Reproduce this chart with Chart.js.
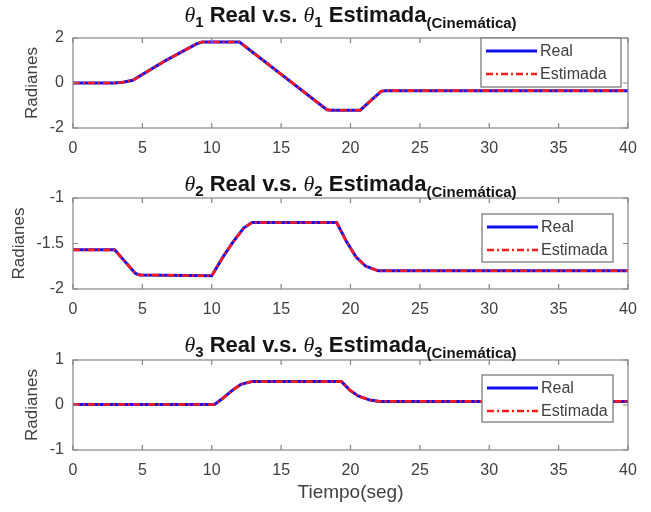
<!DOCTYPE html>
<html><head><meta charset="utf-8">
<script src="https://cdn.jsdelivr.net/npm/chart.js@4.4.1/dist/chart.umd.min.js"></script>
<style>
html,body{margin:0;padding:0;background:#fff;}
#wrap{position:relative;width:651px;height:512px;overflow:hidden;}
canvas{position:absolute;left:0;}
</style></head><body>
<div id="wrap">
<canvas id="c1" width="651" height="162" style="top:0px"></canvas>
<canvas id="c2" width="651" height="162" style="top:162px"></canvas>
<canvas id="c3" width="651" height="188" style="top:324px"></canvas>
</div>
<script>
// ---- data ----
const xTickValues = [0, 5, 10, 15, 20, 25, 30, 35, 40];
const seriesLabels = ['Real', 'Estimada'];
const titleWords = ['Real v.s.', 'Estimada', '(Cinemática)'];
const xAxisTitle = 'Tiempo(seg)';
const yAxisTitle = 'Radianes';

const t1 = [0, 3.0, 3.6, 4.3, 6.6, 8.9, 9.3, 12.0, 18.3, 18.6, 20.7, 22.2, 22.5, 40];
const theta1Real = [0, 0, 0.03, 0.12, 0.97, 1.74, 1.82, 1.82, -1.19, -1.21, -1.21, -0.37, -0.34, -0.34];
const theta1Est  = [0, 0, 0.03, 0.12, 0.97, 1.74, 1.82, 1.82, -1.19, -1.21, -1.21, -0.37, -0.34, -0.34];
const yTicks1 = [-2, 0, 2];

const t2 = [0, 3.0, 4.5, 4.8, 10.0, 10.8, 11.5, 12.3, 12.9, 19.0, 19.7, 20.4, 21.1, 22.0, 40];
const theta2Real = [-1.57, -1.57, -1.83, -1.845, -1.855, -1.65, -1.49, -1.33, -1.27, -1.27, -1.475, -1.65, -1.75, -1.80, -1.80];
const theta2Est  = [-1.57, -1.57, -1.83, -1.845, -1.855, -1.65, -1.49, -1.33, -1.27, -1.27, -1.475, -1.65, -1.75, -1.80, -1.80];
const yTicks2 = [-2, -1.5, -1];

const t3 = [0, 10.2, 10.8, 11.5, 12.1, 12.9, 19.35, 19.95, 20.55, 21.4, 22.1, 40];
const theta3Real = [0.01, 0.01, 0.15, 0.33, 0.46, 0.52, 0.52, 0.33, 0.2, 0.11, 0.08, 0.08];
const theta3Est  = [0.01, 0.01, 0.15, 0.33, 0.46, 0.52, 0.52, 0.33, 0.2, 0.11, 0.08, 0.08];
const yTicks3 = [-1, 0, 1];

// ---- drawing ----
const SANS = '"Liberation Sans", Arial, Helvetica, sans-serif';
const TXT = '#404040';

function pts(ts, vs) { return ts.map((t, i) => ({x: t, y: vs[i]})); }

function drawTitle(ctx, cx, base, sub) {
  const big = 'bold 22px ' + SANS;
  const th = 'italic 22px "Liberation Serif", "DejaVu Serif", serif';
  const small = 'bold 15px ' + SANS;
  const parts = [
    [th, 'θ', 0], [small, sub, 5], [big, ' ' + titleWords[0] + ' ', 0],
    [th, 'θ', 0], [small, sub, 5], [big, ' ' + titleWords[1], 0], [small, titleWords[2], 6]
  ];
  let w = 0;
  parts.forEach(p => { ctx.font = p[0]; w += ctx.measureText(p[1]).width; });
  let x = cx - w / 2;
  ctx.fillStyle = '#141414';
  ctx.textAlign = 'left';
  ctx.textBaseline = 'alphabetic';
  parts.forEach(p => { ctx.font = p[0]; ctx.fillText(p[1], x, base + p[2]); x += ctx.measureText(p[1]).width; });
}

function makePlugin(cfg) {
  return {
    id: 'decor' + cfg.sub,
    afterDraw(chart) {
      const {ctx, chartArea: a, scales: {x, y}} = chart;
      ctx.save();
      // axes box
      ctx.strokeStyle = '#858585';
      ctx.lineWidth = 1.2;
      ctx.strokeRect(a.left, a.top, a.right - a.left, a.bottom - a.top);
      // inward ticks
      ctx.beginPath();
      x.ticks.forEach(tk => {
        const px = x.getPixelForValue(tk.value);
        ctx.moveTo(px, a.bottom); ctx.lineTo(px, a.bottom - 5);
        ctx.moveTo(px, a.top); ctx.lineTo(px, a.top + 5);
      });
      y.ticks.forEach(tk => {
        const py = y.getPixelForValue(tk.value);
        ctx.moveTo(a.left, py); ctx.lineTo(a.left + 5, py);
        ctx.moveTo(a.right, py); ctx.lineTo(a.right - 5, py);
      });
      ctx.stroke();
      // legend
      const L = cfg.legend;
      ctx.fillStyle = '#fff';
      ctx.fillRect(L.x, L.y, L.w, L.h);
      ctx.strokeStyle = '#7a7a7a';
      ctx.lineWidth = 1.3;
      ctx.strokeRect(L.x, L.y, L.w, L.h);
      chart.data.datasets.forEach((ds, i) => {
        const yy = L.y + 13 + i * 23;
        ctx.save();
        ctx.strokeStyle = ds.borderColor;
        ctx.lineWidth = ds.borderWidth;
        ctx.setLineDash(ds.borderDash || []);
        ctx.beginPath();
        ctx.moveTo(L.x + 5, yy); ctx.lineTo(L.x + 56, yy);
        ctx.stroke();
        ctx.restore();
        ctx.fillStyle = TXT;
        ctx.font = '16px ' + SANS;
        ctx.textAlign = 'left';
        ctx.textBaseline = 'middle';
        ctx.fillText(ds.label, L.x + 59, yy + 1);
      });
      // title
      drawTitle(ctx, (a.left + a.right) / 2, a.top - cfg.titleGap, cfg.sub);
      ctx.restore();
    }
  };
}

function makeChart(id, cfg) {
  const xScale = {
    type: 'linear', min: 0, max: 40,
    afterBuildTicks: s => { s.ticks = xTickValues.map(v => ({value: v})); },
    grid: {display: false, drawTicks: false},
    border: {display: false},
    ticks: {color: TXT, padding: 11, font: {family: SANS, size: 16}, maxRotation: 0, callback: v => String(v)},
    afterFit: s => { s.height = cfg.xh; }
  };
  if (cfg.xTitle) {
    xScale.title = {display: true, text: xAxisTitle, color: TXT, font: {family: SANS, size: 19}, padding: {top: 0, bottom: 8}};
  }
  return new Chart(document.getElementById(id), {
    type: 'line',
    data: {
      datasets: [
        {label: seriesLabels[0], data: pts(cfg.t, cfg.real), borderColor: '#1010f0', borderWidth: 3, pointRadius: 0, tension: 0, fill: false, order: 2},
        {label: seriesLabels[1], data: pts(cfg.t, cfg.est), borderColor: '#ff1a1a', borderWidth: 2.6, borderDash: [7, 3, 2, 3], pointRadius: 0, tension: 0, fill: false, order: 1}
      ]
    },
    options: {
      responsive: false, animation: false, devicePixelRatio: 1,
      layout: {padding: {top: cfg.top, right: 23, left: 0, bottom: 0}},
      plugins: {legend: {display: false}, tooltip: {enabled: false}, title: {display: false}},
      scales: {
        x: xScale,
        y: {
          min: cfg.yMin, max: cfg.yMax,
          afterBuildTicks: s => { s.ticks = cfg.yTicks.map(v => ({value: v})); },
          grid: {display: false, drawTicks: false},
          border: {display: false},
          ticks: {color: TXT, padding: 9, font: {family: SANS, size: 16}, callback: v => String(v)},
          title: {display: true, text: yAxisTitle, color: TXT, font: {family: SANS, size: 17}, padding: {top: cfg.yTitlePad, bottom: 0}},
          afterFit: s => { s.width = 73; }
        }
      }
    },
    plugins: [makePlugin(cfg)]
  });
}

makeChart('c1', {sub: '1', t: t1, real: theta1Real, est: theta1Est, yMin: -2, yMax: 2, yTicks: yTicks1, top: 38, xh: 34, titleGap: 16, yTitlePad: 22,
  legend: {x: 481, y: 38, w: 140, h: 49}});
makeChart('c2', {sub: '2', t: t2, real: theta2Real, est: theta2Est, yMin: -2, yMax: -1, yTicks: yTicks2, top: 36, xh: 35, titleGap: 7, yTitlePad: 9,
  legend: {x: 482, y: 214 - 162, w: 131, h: 48}});
makeChart('c3', {sub: '3', t: t3, real: theta3Real, est: theta3Est, yMin: -1, yMax: 1, yTicks: yTicks3, top: 36, xh: 62, xTitle: true, titleGap: 8, yTitlePad: 22,
  legend: {x: 482, y: 375 - 324, w: 131, h: 47}});
</script>
</body></html>
